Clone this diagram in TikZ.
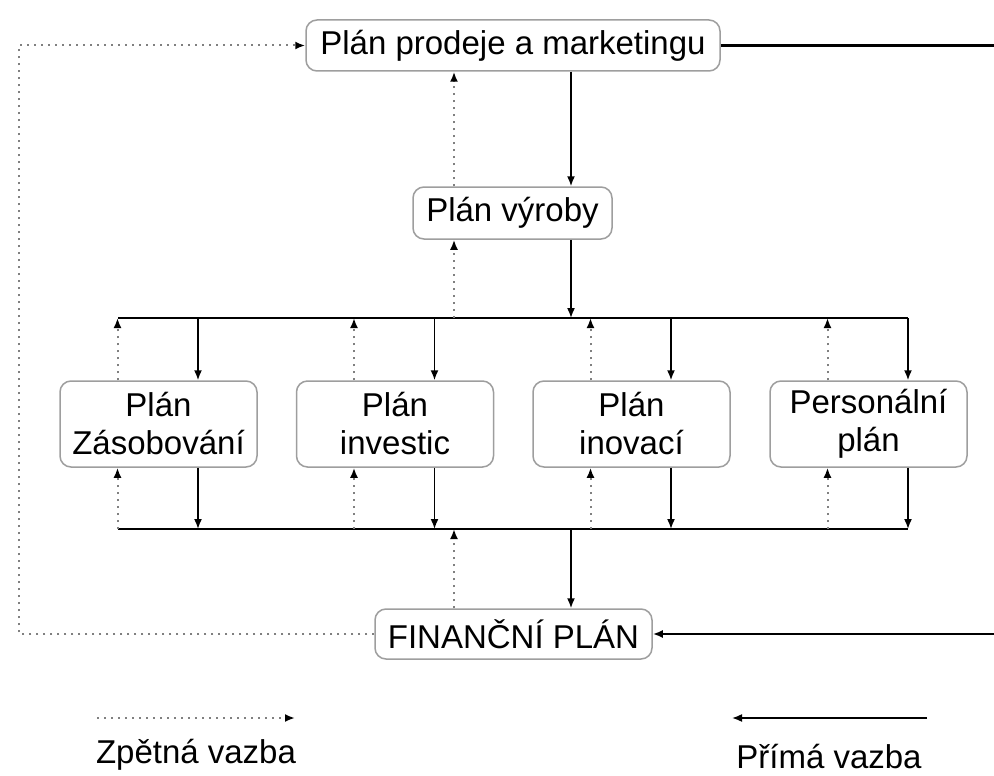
\documentclass[tikz,border=0pt]{standalone}
\usepackage{fontspec}
\setmainfont{Liberation Sans}
\usetikzlibrary{arrows.meta,calc}
\begin{document}
\begin{tikzpicture}[x=1pt,y=-1pt,
  box/.style={draw=black!38,line width=1.5pt,rounded corners=11pt,fill=white,
    inner sep=0pt,align=center,font=\fontsize{33}{38}\selectfont},
  arr/.style={black,line width=1.6pt,-{Latex[length=10pt,width=8pt]}},
  busline/.style={black,line width=2.8pt},
  thickline/.style={black,line width=2.4pt},
  dotline/.style={black!50,line width=2pt,dash pattern=on 2pt off 5pt},
  dotarrow/.style={dotline,-{Latex[length=10pt,width=8pt,color=black]}},
  lbl/.style={font=\fontsize{33}{38}\selectfont,inner sep=0pt}]
\useasboundingbox (0,0) rectangle (994,776);
% nodes
\node[box,minimum width=414pt,minimum height=51pt] (top) at (513,45.5) {Plán prodeje a marketingu};
\node[box,minimum width=199pt,minimum height=52pt] (vy) at (512.5,213) {Plán výroby};
\node[box,minimum width=197pt,minimum height=86pt] (b1) at (158.5,424) {Plán\\Zásobování};
\node[box,minimum width=197pt,minimum height=86pt] (b2) at (395,424) {Plán\\investic};
\node[box,minimum width=197pt,minimum height=86pt] (b3) at (631.5,424) {Plán\\inovací};
\node[box,minimum width=197pt,minimum height=86pt] (b4) at (868.5,424) {Personální\\plán};
\node[box,minimum width=277pt,minimum height=50pt] (fin) at (513.5,634) {FINANČNÍ PLÁN};
% bus coordinates
\coordinate (busTL) at (118,318);
\coordinate (busTR) at (908,318);
\coordinate (busBL) at (118,529);
\coordinate (busBR) at (908,529);
\draw[busline] (busTL) -- (busTR);
\draw[busline] (busBL) -- (busBR);
% branches to plan boxes
\foreach \i in {1,...,4} {
  \path (b\i.north) ++(39.5,0) coordinate (sn\i) ++(-80.5,0) coordinate (dn\i);
  \path (b\i.south) ++(39.5,0) coordinate (ss\i) ++(-80.5,0) coordinate (ds\i);
  \draw[arr] (sn\i |- busTL) -- (sn\i);
  \draw[dotarrow] (dn\i) -- (dn\i |- busTL);
  \draw[arr] (ss\i) -- (ss\i |- busBL);
  \draw[dotarrow] (ds\i |- busBL) -- (ds\i);
}
% central vertical connectors
\path (top.south) ++(58,0) coordinate (tS);
\path (top.south) ++(-59,0) coordinate (tD);
\draw[arr] (tS) -- (tS |- vy.north);
\draw[arr] (tS |- vy.south) -- (tS |- busTL);
\draw[dotarrow] (tD |- vy.north) -- (tD);
\draw[dotarrow] (tD |- busTL) -- (tD |- vy.south);
\draw[arr] (tS |- busBL) -- (tS |- fin.north);
\draw[dotarrow] (tD |- fin.north) -- (tD |- busBL);
% outer loops
\coordinate (RT) at (994,45.5);
\coordinate (RB) at (994,634);
\draw[thickline] (top.east) -- (RT);
\draw[arr,line width=2.4pt] (RB) -- (fin.east);
\coordinate (LT) at (19,45.5);
\coordinate (LB) at (19,634);
\draw[dotarrow] (fin.west) -- (LB) -- (LT) -- (top.west);
% legend
\coordinate (ld1) at (97,718);
\coordinate (ld2) at (295,718);
\coordinate (ls1) at (927,718);
\coordinate (ls2) at (732,718);
\draw[dotarrow] (ld1) -- (ld2);
\draw[arr] (ls1) -- (ls2);
\node[lbl] (lz) at (196,755) {Zpětná vazba};
\node[lbl] (lp) at (829,757) {Přímá vazba};
\end{tikzpicture}
\end{document}
